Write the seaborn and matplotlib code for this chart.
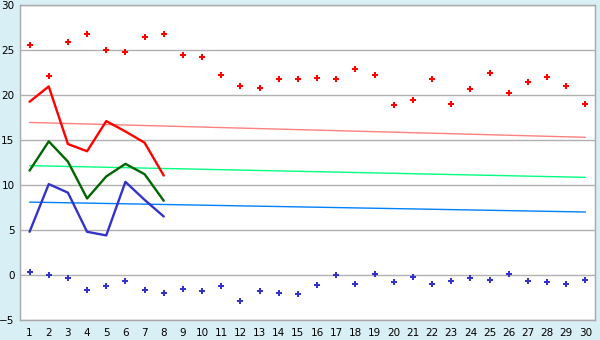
import numpy as np
import pandas as pd
import matplotlib
matplotlib.use("Agg")
import matplotlib.pyplot as plt
import seaborn as sns

days = list(range(1, 31))
line_days = list(range(1, 9))

red_points = [25.6, 22.1, 25.85, 26.75, 25.05, 24.75, 26.4, 26.75, 24.4, 24.2,
              22.2, 21.05, 20.75, 21.75, 21.75, 21.85, 21.75, 22.85, 22.2, 18.85,
              19.5, 21.75, 18.95, 20.65, 22.4, 20.2, 21.4, 21.95, 20.95, 18.95]
blue_points = [0.3, 0.0, -0.35, -1.7, -1.25, -0.7, -1.7, -2.05, -1.5, -1.8,
               -1.25, -2.9, -1.8, -2.05, -2.15, -1.15, 0.0, -1.05, 0.1, -0.8,
               -0.25, -1.05, -0.7, -0.35, -0.5, 0.1, -0.7, -0.8, -1.05, -0.6]

red_line = [19.25, 20.95, 14.55, 13.75, 17.1, 15.95, 14.7, 11.05]
green_line = [11.6, 14.85, 12.6, 8.5, 10.95, 12.35, 11.2, 8.25]
blue_line = [4.8, 10.1, 9.15, 4.8, 4.4, 10.35, 8.35, 6.5]

trend_days = [1, 30]
red_trend = [16.95, 15.3]
green_trend = [12.15, 10.85]
blue_trend = [8.1, 7.0]

y_ticks = [-5, 0, 5, 10, 15, 20, 25, 30]

sns.set_style("white")
plt.rcParams['font.family'] = ['DejaVu Sans']

bg = "#D9EFF6"
fig = plt.figure(figsize=(6, 3.4), dpi=100, facecolor=bg)
ax = fig.add_axes([20/600, 1 - 320/340, 575/600, 315/340])
ax.set_facecolor("white")

for vals, col in [(red_trend, "#FF8080"), (green_trend, "#00FF80"), (blue_trend, "#0080FF")]:
    sns.lineplot(x=trend_days, y=vals, color=col, linewidth=1.0, ax=ax)

for vals, col in [(red_line, "#FF0000"), (green_line, "#006600"), (blue_line, "#3333CC")]:
    sns.lineplot(x=line_days, y=vals, color=col, linewidth=1.7, ax=ax)

sns.scatterplot(x=days, y=red_points, color="#FF0000", marker="P", s=22,
                linewidth=0, ax=ax, zorder=5)
sns.scatterplot(x=days, y=blue_points, color="#3333CC", marker="P", s=22,
                linewidth=0, ax=ax, zorder=5)

ax.set_xlim(0.5, 30.5)
ax.set_ylim(-5, 30)
ax.set_xticks(days)
ax.set_xticklabels([str(d) for d in days])
ax.set_yticks(y_ticks)
ax.yaxis.grid(True, color="#B0B0B0", linewidth=1)
ax.xaxis.grid(False)
ax.set_axisbelow(True)
for s in ax.spines.values():
    s.set_color("#A8A8A8")
    s.set_linewidth(1)
ax.tick_params(axis="both", which="both", direction="out", length=4, width=1,
               color="#333333", labelsize=7.5, labelcolor="black", pad=2)
ax.tick_params(axis="y", pad=1, length=3)
ax.set_xlabel("")
ax.set_ylabel("")

fig.savefig("out.png", dpi=100, facecolor=bg)
